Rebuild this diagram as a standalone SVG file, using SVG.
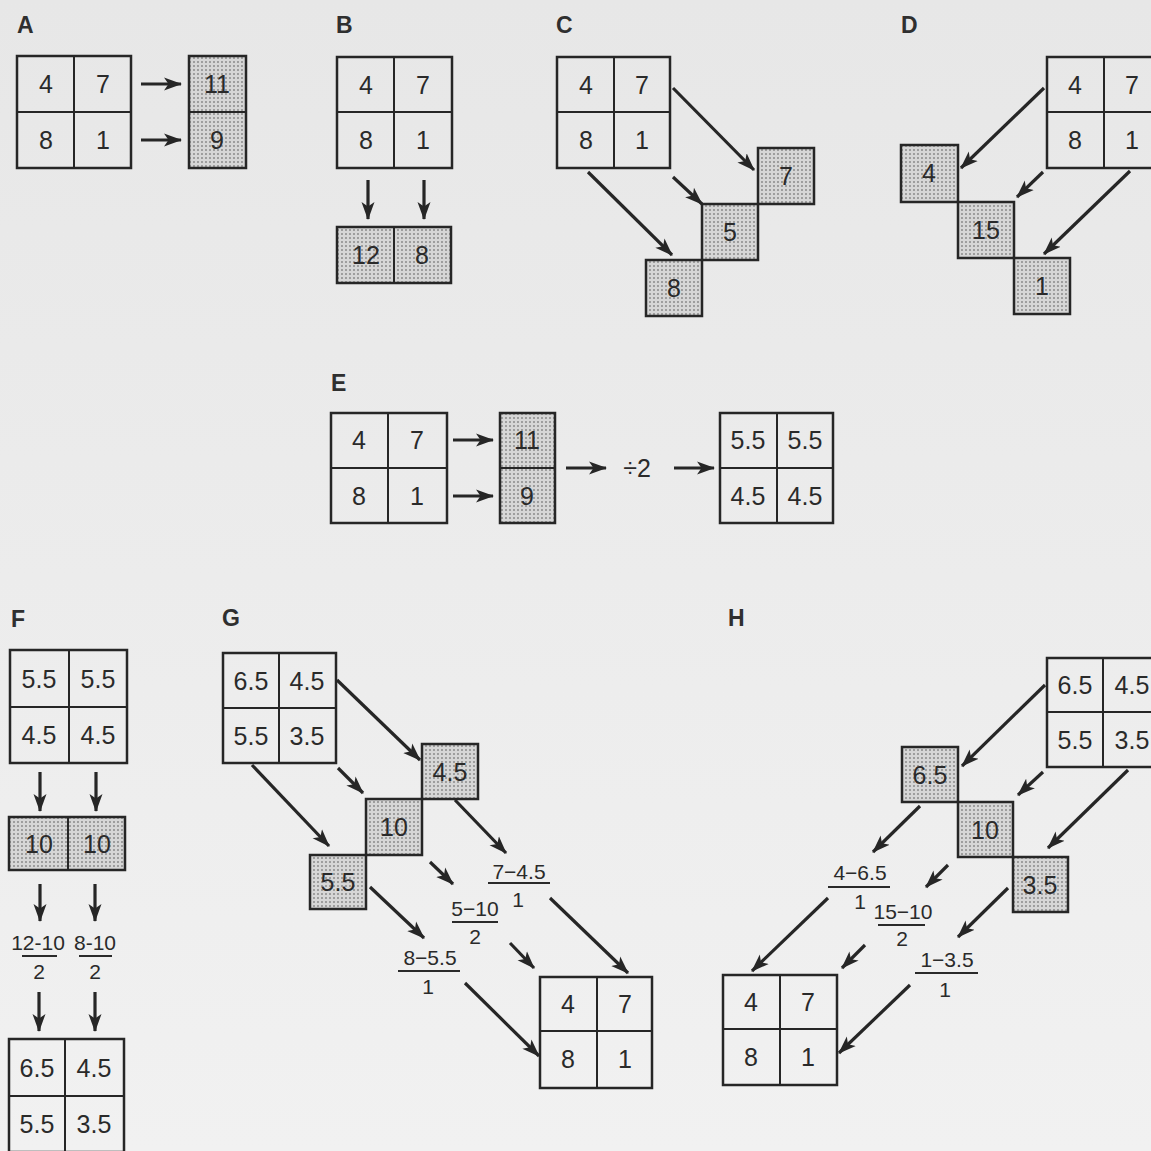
<svg xmlns="http://www.w3.org/2000/svg" width="1151" height="1151" viewBox="0 0 1151 1151">
<defs>
<linearGradient id="bg" x1="0" y1="0" x2="0" y2="1">
<stop offset="0" stop-color="#e7e7e7"/>
<stop offset="1" stop-color="#f1f1f1"/>
</linearGradient>
<pattern id="dots" width="4" height="4" patternUnits="userSpaceOnUse">
<rect width="4" height="4" fill="#d6d6d6"/>
<circle cx="2" cy="2" r="0.95" fill="#858585"/>
</pattern>
<marker id="ah" markerUnits="userSpaceOnUse" markerWidth="20" markerHeight="14" refX="17" refY="7" orient="auto">
<path d="M0,0.5 L18,7 L0,13.5 L4.5,7 z" fill="#262626"/>
</marker>
</defs>
<style>
.g{fill:none;stroke:#262626;stroke-width:2.5}
.s{fill:url(#dots);stroke:#262626;stroke-width:2.5}
.l{stroke:#262626;stroke-width:2}
.t{font-family:"Liberation Sans","DejaVu Sans",sans-serif;font-size:25px;fill:#2a2a2a;text-anchor:middle;dominant-baseline:central}
.f{font-family:"Liberation Sans","DejaVu Sans",sans-serif;font-size:21px;fill:#2a2a2a;text-anchor:middle;dominant-baseline:central}
.p{font-family:"Liberation Sans","DejaVu Sans",sans-serif;font-size:23px;font-weight:bold;fill:#2f2f2f}
.a{stroke:#262626;stroke-width:3.2;fill:none;marker-end:url(#ah)}
.u{stroke:#2a2a2a;stroke-width:2}
</style>
<rect width="1151" height="1151" fill="url(#bg)"/>

<g id="labels">
<text class="p" x="17" y="33">A</text>
<text class="p" x="336" y="33">B</text>
<text class="p" x="556" y="33">C</text>
<text class="p" x="901" y="33">D</text>
<text class="p" x="331" y="391">E</text>
<text class="p" x="11" y="627">F</text>
<text class="p" x="222" y="626">G</text>
<text class="p" x="728" y="626">H</text>
</g>

<!-- Panel A -->
<g id="A-grid">
<rect class="g" x="17" y="56" width="114" height="112"/>
<line class="l" x1="74" y1="56" x2="74" y2="168"/><line class="l" x1="17" y1="112" x2="131" y2="112"/>
<text class="t" x="46" y="84">4</text><text class="t" x="103" y="84">7</text>
<text class="t" x="46" y="140">8</text><text class="t" x="103" y="140">1</text>
</g>
<g id="A-sum">
<rect class="s" x="189" y="56" width="57" height="112"/>
<line class="l" x1="189" y1="112" x2="246" y2="112"/>
<text class="t" x="217" y="84">11</text><text class="t" x="217" y="140">9</text>
</g>

<!-- Panel B -->
<g id="B-grid">
<rect class="g" x="337" y="57" width="115" height="111"/>
<line class="l" x1="394" y1="57" x2="394" y2="168"/><line class="l" x1="337" y1="112" x2="452" y2="112"/>
<text class="t" x="366" y="85">4</text><text class="t" x="423" y="85">7</text>
<text class="t" x="366" y="140">8</text><text class="t" x="423" y="140">1</text>
</g>
<g id="B-sum">
<rect class="s" x="337" y="227" width="114" height="56"/>
<line class="l" x1="394" y1="227" x2="394" y2="283"/>
<text class="t" x="366" y="255">12</text><text class="t" x="422" y="255">8</text>
</g>

<!-- Panel C -->
<g id="C-grid">
<rect class="g" x="557" y="57" width="113" height="111"/>
<line class="l" x1="614" y1="57" x2="614" y2="168"/><line class="l" x1="557" y1="112" x2="670" y2="112"/>
<text class="t" x="586" y="85">4</text><text class="t" x="642" y="85">7</text>
<text class="t" x="586" y="140">8</text><text class="t" x="642" y="140">1</text>
</g>
<g id="C-sums">
<rect class="s" x="758" y="148" width="56" height="56"/><text class="t" x="786" y="176">7</text>
<rect class="s" x="702" y="204" width="56" height="56"/><text class="t" x="730" y="232">5</text>
<rect class="s" x="646" y="260" width="56" height="56"/><text class="t" x="674" y="288">8</text>
</g>

<!-- Panel D -->
<g id="D-grid">
<rect class="g" x="1047" y="57" width="114" height="111"/>
<line class="l" x1="1104" y1="57" x2="1104" y2="168"/><line class="l" x1="1047" y1="112" x2="1161" y2="112"/>
<text class="t" x="1075" y="85">4</text><text class="t" x="1132" y="85">7</text>
<text class="t" x="1075" y="140">8</text><text class="t" x="1132" y="140">1</text>
</g>
<g id="D-sums">
<rect class="s" x="901" y="145" width="57" height="57"/><text class="t" x="929" y="173">4</text>
<rect class="s" x="958" y="202" width="56" height="56"/><text class="t" x="986" y="230">15</text>
<rect class="s" x="1014" y="258" width="56" height="56"/><text class="t" x="1042" y="286">1</text>
</g>

<!-- Panel E -->
<g id="E-grid">
<rect class="g" x="331" y="413" width="116" height="110"/>
<line class="l" x1="388" y1="413" x2="388" y2="523"/><line class="l" x1="331" y1="468" x2="447" y2="468"/>
<text class="t" x="359" y="440">4</text><text class="t" x="417" y="440">7</text>
<text class="t" x="359" y="496">8</text><text class="t" x="417" y="496">1</text>
</g>
<g id="E-sum">
<rect class="s" x="500" y="413" width="55" height="110"/>
<line class="l" x1="500" y1="468" x2="555" y2="468"/>
<text class="t" x="527" y="440">11</text><text class="t" x="527" y="496">9</text>
</g>
<g id="E-div"><text class="t" x="637" y="468">÷2</text></g>
<g id="E-result">
<rect class="g" x="720" y="413" width="113" height="110"/>
<line class="l" x1="777" y1="413" x2="777" y2="523"/><line class="l" x1="720" y1="468" x2="833" y2="468"/>
<text class="t" x="748" y="440">5.5</text><text class="t" x="805" y="440">5.5</text>
<text class="t" x="748" y="496">4.5</text><text class="t" x="805" y="496">4.5</text>
</g>

<!-- Panel F -->
<g id="F-grid">
<rect class="g" x="10" y="650" width="117" height="113"/>
<line class="l" x1="69" y1="650" x2="69" y2="763"/><line class="l" x1="10" y1="707" x2="127" y2="707"/>
<text class="t" x="39" y="679">5.5</text><text class="t" x="98" y="679">5.5</text>
<text class="t" x="39" y="735">4.5</text><text class="t" x="98" y="735">4.5</text>
</g>
<g id="F-sum">
<rect class="s" x="9" y="817" width="116" height="53"/>
<line class="l" x1="68" y1="817" x2="68" y2="870"/>
<text class="t" x="39" y="844">10</text><text class="t" x="97" y="844">10</text>
</g>
<g id="F-frac">
<text class="f" x="38" y="942">12-10</text><line class="u" x1="22" y1="956" x2="57" y2="956"/><text class="f" x="39" y="971">2</text>
<text class="f" x="95" y="942">8-10</text><line class="u" x1="79" y1="956" x2="112" y2="956"/><text class="f" x="95" y="971">2</text>
</g>
<g id="F-result">
<rect class="g" x="9" y="1039" width="115" height="113"/>
<line class="l" x1="65" y1="1039" x2="65" y2="1152"/><line class="l" x1="9" y1="1096" x2="124" y2="1096"/>
<text class="t" x="37" y="1068">6.5</text><text class="t" x="94" y="1068">4.5</text>
<text class="t" x="37" y="1124">5.5</text><text class="t" x="94" y="1124">3.5</text>
</g>

<!-- Panel G -->
<g id="G-grid">
<rect class="g" x="223" y="653" width="113" height="110"/>
<line class="l" x1="279" y1="653" x2="279" y2="763"/><line class="l" x1="223" y1="708" x2="336" y2="708"/>
<text class="t" x="251" y="681">6.5</text><text class="t" x="307" y="681">4.5</text>
<text class="t" x="251" y="736">5.5</text><text class="t" x="307" y="736">3.5</text>
</g>
<g id="G-sums">
<rect class="s" x="422" y="744" width="56" height="55"/><text class="t" x="450" y="772">4.5</text>
<rect class="s" x="366" y="799" width="56" height="56"/><text class="t" x="394" y="827">10</text>
<rect class="s" x="310" y="855" width="56" height="54"/><text class="t" x="338" y="882">5.5</text>
</g>
<g id="G-frac">
<text class="f" x="519" y="871">7−4.5</text><line class="u" x1="488" y1="883" x2="550" y2="883"/><text class="f" x="518" y="899">1</text>
<text class="f" x="475" y="908">5−10</text><line class="u" x1="452" y1="922" x2="498" y2="922"/><text class="f" x="475" y="936">2</text>
<text class="f" x="430" y="957">8−5.5</text><line class="u" x1="398" y1="971" x2="460" y2="971"/><text class="f" x="428" y="986">1</text>
</g>
<g id="G-result">
<rect class="g" x="540" y="977" width="112" height="111"/>
<line class="l" x1="597" y1="977" x2="597" y2="1088"/><line class="l" x1="540" y1="1031" x2="652" y2="1031"/>
<text class="t" x="568" y="1004">4</text><text class="t" x="625" y="1004">7</text>
<text class="t" x="568" y="1059">8</text><text class="t" x="625" y="1059">1</text>
</g>

<!-- Panel H -->
<g id="H-grid">
<rect class="g" x="1047" y="658" width="114" height="109"/>
<line class="l" x1="1103" y1="658" x2="1103" y2="767"/><line class="l" x1="1047" y1="712" x2="1161" y2="712"/>
<text class="t" x="1075" y="685">6.5</text><text class="t" x="1132" y="685">4.5</text>
<text class="t" x="1075" y="740">5.5</text><text class="t" x="1132" y="740">3.5</text>
</g>
<g id="H-sums">
<rect class="s" x="902" y="747" width="56" height="55"/><text class="t" x="930" y="775">6.5</text>
<rect class="s" x="958" y="802" width="55" height="55"/><text class="t" x="985" y="830">10</text>
<rect class="s" x="1013" y="857" width="55" height="55"/><text class="t" x="1040" y="885">3.5</text>
</g>
<g id="H-frac">
<text class="f" x="860" y="872">4−6.5</text><line class="u" x1="828" y1="887" x2="890" y2="887"/><text class="f" x="860" y="901">1</text>
<text class="f" x="903" y="911">15−10</text><line class="u" x1="878" y1="925" x2="925" y2="925"/><text class="f" x="902" y="938">2</text>
<text class="f" x="947" y="959">1−3.5</text><line class="u" x1="915" y1="973" x2="978" y2="973"/><text class="f" x="945" y="989">1</text>
</g>
<g id="H-result">
<rect class="g" x="723" y="975" width="114" height="110"/>
<line class="l" x1="780" y1="975" x2="780" y2="1085"/><line class="l" x1="723" y1="1029" x2="837" y2="1029"/>
<text class="t" x="751" y="1002">4</text><text class="t" x="808" y="1002">7</text>
<text class="t" x="751" y="1057">8</text><text class="t" x="808" y="1057">1</text>
</g>

<g id="connectors">
<!-- A -->
<line class="a" x1="141" y1="84" x2="181" y2="84"/>
<line class="a" x1="141" y1="140" x2="181" y2="140"/>
<!-- B -->
<line class="a" x1="368" y1="180" x2="368" y2="219"/>
<line class="a" x1="424" y1="180" x2="424" y2="219"/>
<!-- C -->
<line class="a" x1="673" y1="88" x2="754" y2="170"/>
<line class="a" x1="673" y1="177" x2="702" y2="204"/>
<line class="a" x1="588" y1="172" x2="672" y2="255"/>
<!-- D -->
<line class="a" x1="1044" y1="88" x2="961" y2="168"/>
<line class="a" x1="1043" y1="172" x2="1017" y2="197"/>
<line class="a" x1="1130" y1="171" x2="1044" y2="254"/>
<!-- E -->
<line class="a" x1="453" y1="440" x2="493" y2="440"/>
<line class="a" x1="453" y1="496" x2="493" y2="496"/>
<line class="a" x1="566" y1="468" x2="606" y2="468"/>
<line class="a" x1="674" y1="468" x2="714" y2="468"/>
<!-- F -->
<line class="a" x1="40" y1="772" x2="40" y2="811"/>
<line class="a" x1="96" y1="772" x2="96" y2="811"/>
<line class="a" x1="40" y1="884" x2="40" y2="921"/>
<line class="a" x1="95" y1="884" x2="95" y2="921"/>
<line class="a" x1="39" y1="992" x2="39" y2="1031"/>
<line class="a" x1="95" y1="992" x2="95" y2="1031"/>
<!-- G -->
<line class="a" x1="337" y1="680" x2="420" y2="760"/>
<line class="a" x1="338" y1="768" x2="363" y2="793"/>
<line class="a" x1="252" y1="765" x2="329" y2="846"/>
<line class="a" x1="455" y1="800" x2="506" y2="853"/>
<line class="a" x1="430" y1="862" x2="453" y2="884"/>
<line class="a" x1="370" y1="887" x2="424" y2="938"/>
<line class="a" x1="510" y1="943" x2="534" y2="968"/>
<line class="a" x1="550" y1="898" x2="628" y2="973"/>
<line class="a" x1="465" y1="983" x2="539" y2="1056"/>
<!-- H -->
<line class="a" x1="1045" y1="685" x2="962" y2="766"/>
<line class="a" x1="1043" y1="772" x2="1018" y2="795"/>
<line class="a" x1="1128" y1="770" x2="1048" y2="848"/>
<line class="a" x1="920" y1="806" x2="873" y2="852"/>
<line class="a" x1="948" y1="865" x2="926" y2="887"/>
<line class="a" x1="1008" y1="888" x2="958" y2="937"/>
<line class="a" x1="828" y1="898" x2="752" y2="971"/>
<line class="a" x1="865" y1="945" x2="842" y2="968"/>
<line class="a" x1="910" y1="985" x2="839" y2="1053"/>
</g>
</svg>
